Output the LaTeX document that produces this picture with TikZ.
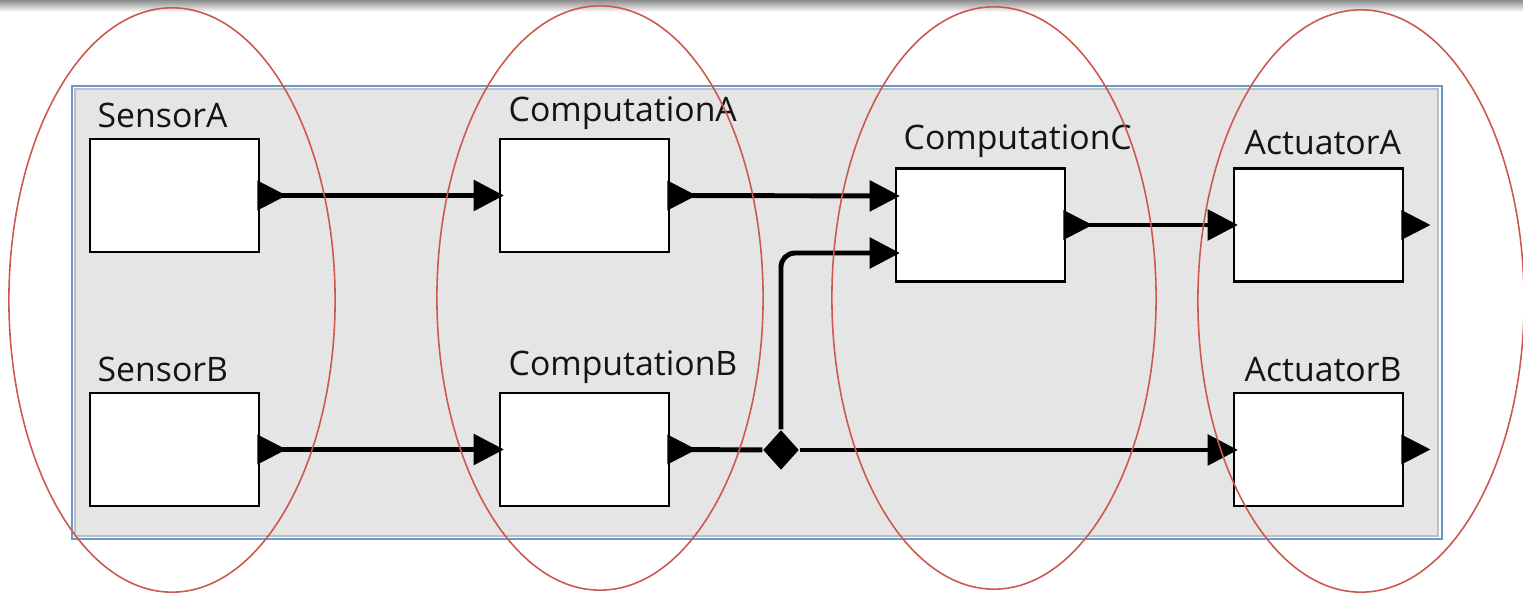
\documentclass[tikz,border=0pt]{standalone}
\usepackage{fontspec}
\newfontfamily\blockfont{Open Sans}
\usepackage{xcolor}
\usepackage{tikz}
\usetikzlibrary{positioning, calc}
\usetikzlibrary{arrows.meta, shapes.geometric}
\tikzset{
	block/.style={draw=black, fill=white, line width=0.75pt, minimum width=1.69cm, minimum height=1.13cm, inner sep=0pt},
	blocklabel/.style={anchor=base west, inner sep=0pt, text=black!92, font=\blockfont\fontsize{9.6}{11}\selectfont},
	wire/.style={line width=1.4pt, shorten >=-1.5pt, -{Triangle[length=8.6pt, width=8.6pt]}},
	junction/.style={diamond, fill=black, inner sep=0pt, minimum width=0.36cm, minimum height=0.40cm},
	group/.style={draw=EllRed, line width=0.45pt},
}
\definecolor{EllRed}{RGB}{204, 88, 78}
\definecolor{FrameBlue}{RGB}{104, 152, 208}
\definecolor{PanelGray}{RGB}{229, 229, 229}
\newcommand{\outport}[1]{\fill (#1.east) ++(-3,-15) -- ++(29,15) -- ++(-29,15) -- cycle;}

\begin{document}
\begin{tikzpicture}[x=0.01cm, y=-0.01cm]
\useasboundingbox (0,0) rectangle (1523,595);
\fill[white] (0,0) rectangle (1523,595);
\shade[top color=black!45, bottom color=white] (0,0) rectangle (1523,12);

\draw[FrameBlue, line width=0.6pt] (72,86) rectangle (1442,539);
\draw[fill=PanelGray, draw=black!25, line width=0.5pt] (75,89) rectangle (1438,536);

\node[block] (sensorA) at (174.5,195.5) {};
\node[block] (sensorB) at (174.5,449.5) {};
\node[block] (compA) at (584.5,195.5) {};
\node[block] (compB) at (584.5,449.5) {};
\node[block] (compC) at (980.5,225) {};
\node[block] (actA) at (1318.5,225) {};
\node[block] (actB) at (1318.5,449.5) {};

\node[blocklabel] (sensorA-lbl) at (97,128) {SensorA};
\node[blocklabel] (sensorB-lbl) at (97,382) {SensorB};
\node[blocklabel] (compA-lbl) at (508,122) {ComputationA};
\node[blocklabel] (compB-lbl) at (508,376) {ComputationB};
\node[blocklabel] (compC-lbl) at (903,150) {ComputationC};
\node[blocklabel] (actA-lbl) at (1244,155) {ActuatorA};
\node[blocklabel] (actB-lbl) at (1244,382) {ActuatorB};

\node[junction] (split) at (781,450) {};

\draw[wire] (sensorA.east) -- (compA.west);
\draw[wire] (compA.east) -- ([yshift=0.29cm]compC.west);
\draw[wire] (compC.east) -- (actA.west);
\draw[wire] (sensorB.east) -- (compB.west);
\draw[line width=1.4pt] (compB.east) -- (split);
\draw[wire] (split) -- (split -| actB.west);
\draw[wire, rounded corners=4pt] (split) |- ([yshift=-0.28cm]compC.west);

\outport{sensorA}
\outport{sensorB}
\outport{compA}
\outport{compB}
\outport{compC}
\outport{actA}
\outport{actB}

% groups
\draw[group] (172,300) ellipse [x radius=1.63cm, y radius=2.92cm];
\draw[group] (600,298) ellipse [x radius=1.63cm, y radius=2.92cm];
\draw[group] (994,298) ellipse [x radius=1.62cm, y radius=2.91cm];
\draw[group] (1361,301) ellipse [x radius=1.63cm, y radius=2.91cm];
\end{tikzpicture}
\end{document}
